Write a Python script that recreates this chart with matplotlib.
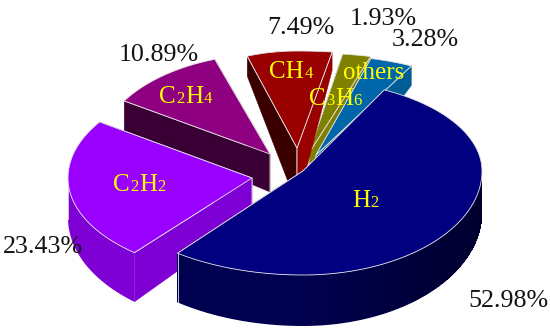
import numpy as np
import matplotlib
matplotlib.use('Agg')
import matplotlib.pyplot as plt
from matplotlib.patches import Polygon
from matplotlib.colors import to_rgb

# values clockwise from the H2 slice
categories = [('H', '2'), ('C', '2', 'H', '2'), ('C', '2', 'H', '4'), ('CH', '4'), ('C', '3', 'H', '6'), ('others',)]
values = [52.98, 23.43, 10.89, 7.49, 1.93, 3.28]

start_angle = 63.0
top_colors = ['#000080', '#9900FF', '#8F0080', '#990000', '#808000', '#0066AA']
side_colors = ['#000050', '#7F00D4', '#3A0035', '#3A0000', '#555500', '#004C80']
side_colors_right = ['#00002E', '#7F00D4', '#3A0035', '#3A0000', '#555500', '#004C80']
# the cut face on the clockwise side of a slice catches the light on the small slices
end_face_colors = ['#000050', '#7F00D4', '#3A0035', '#990000', '#808000', '#005C94']

# slice geometry in image pixels, the picture has a bit of perspective so
# the four half axes of each rim differ
apex_x = [303, 252, 270, 297, 309, 316]
apex_y = [171, 178, 154, 148, 153, 155]
radius_left = [205, 184, 172, 155, 235, 210]
radius_right = [179, 184, 172, 245, 235, 210]
radius_top = [91, 100, 100, 97, 100, 100]
radius_bottom = [104, 97, 100, 97, 100, 100]
depth = [42, 40, 38, 57, 57, 57]
depth_tilt = [9, 12, 15, 39, 39, 42]
twist = [0, -2, 0, 0, 0, 0]

label_x = [352, 113, 159, 269, 309, 343]
label_y = [207, 191, 103, 78, 105, 79]
pct_x = [508, 43, 159, 301, 383, 425]
pct_y = [301, 247, 55, 28, 19, 40]

plt.rcParams['font.family'] = ['Liberation Serif', 'DejaVu Serif']

fig = plt.figure(figsize=(5.5, 3.3), dpi=100)
ax = fig.add_axes([0, 0, 1, 1])
ax.set_xlim(0, 550)
ax.set_ylim(330, 0)
ax.axis('off')

edge = '#E4E4E4'


def draw_cut_face(i, apex, apex_low, corner, corner_low, color):
    quad = np.vstack([apex, corner, corner_low, apex_low])
    ax.add_patch(Polygon(quad, closed=True, facecolor=color, edgecolor=color, linewidth=0.3))
    # light lines on the upper edge and on the vertical through the apex
    line = np.vstack([apex_low, apex, corner])
    ax.plot(line[:, 0], line[:, 1], color=edge, linewidth=0.6, zorder=1)


def draw_slice(i, a0, a1):
    # a0 > a1, going clockwise
    t = np.radians(np.linspace(a0, a1, 120) + twist[i])
    cx, cy = apex_x[i], apex_y[i]
    c, s = np.cos(t), np.sin(t)
    px = cx + np.where(c < 0, radius_left[i], radius_right[i]) * c
    py = cy - np.where(s < 0, radius_bottom[i], radius_top[i]) * s
    rim = np.column_stack([px, py])
    drop = depth[i] - depth_tilt[i] * s
    low = rim + np.column_stack([np.zeros_like(drop), drop])
    apex = np.array([[cx, cy]])
    apex_low = apex + [0, depth[i]]

    draw_cut_face(i, apex, apex_low, rim[:1], low[:1], side_colors[i])
    draw_cut_face(i, apex, apex_low, rim[-1:], low[-1:], end_face_colors[i])

    front = np.where(s < 0)[0]
    if len(front) > 0:
        band = np.vstack([rim[front], low[front][::-1]])
        ax.add_patch(Polygon(band, closed=True, facecolor=side_colors[i], edgecolor='none'))
        if side_colors[i] != side_colors_right[i]:
            # darker towards the right, stay a pixel inside the smooth outline
            c0, c1 = np.array(to_rgb(side_colors[i])), np.array(to_rgb(side_colors_right[i]))
            for j, k in zip(front[:-1], front[1:]):
                mix = np.clip(c[j], 0, 1)
                strip = np.vstack([rim[[j, k]] + [0, 1], low[[k, j]] - [0, 1]])
                ax.add_patch(Polygon(strip, closed=True, facecolor=c0 * (1 - mix) + c1 * mix,
                                     edgecolor='none', antialiased=False))
        # vertical line where the rim meets the cut face
        j = front[-1] if np.cos(t[front[-1]]) < 0 and a1 < -90 else front[0]
        ax.plot([rim[j, 0], low[j, 0]], [rim[j, 1], low[j, 1]], color=edge, linewidth=0.6, zorder=1)

    ax.add_patch(Polygon(np.vstack([apex, rim]), closed=True, facecolor=top_colors[i], edgecolor=edge, linewidth=0.6))


angles = [start_angle]
for v in values:
    angles.append(angles[-1] - v / sum(values) * 360)

# paint far slices first
order = [4, 5, 3, 2, 1, 0]
for i in order:
    draw_slice(i, angles[i], angles[i + 1])


def draw_label(x, y, parts):
    # the digits sit on the baseline, only smaller
    renderer = fig.canvas.get_renderer()
    for p in parts:
        size = 12 if p.isdigit() else 18
        txt = ax.text(x, y, p, color='#FFFF00', fontsize=size, va='baseline', ha='left', zorder=10)
        x += txt.get_window_extent(renderer).width + 0.5


for i in range(len(values)):
    draw_label(label_x[i], label_y[i], categories[i])
    ax.text(pct_x[i], pct_y[i], f'{values[i]:.2f}%', color='#111111', fontsize=18.7,
            ha='center', va='center', zorder=10)

fig.savefig('out.png', dpi=100, facecolor='white')
